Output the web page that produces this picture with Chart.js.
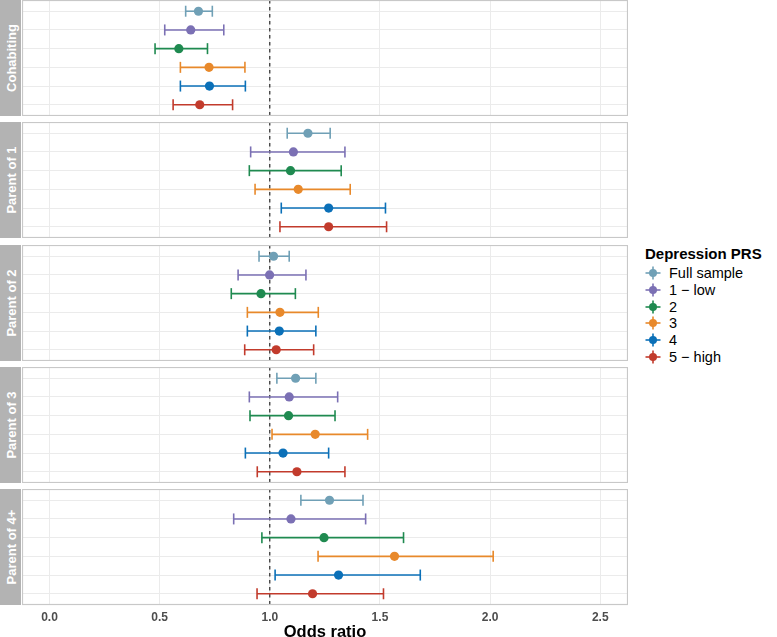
<!DOCTYPE html>
<html>
<head>
<meta charset="utf-8">
<script src="https://cdn.jsdelivr.net/npm/chart.js@4/dist/chart.umd.min.js"></script>
<style>
  html, body { margin:0; padding:0; background:#fff; }
  body { width:777px; height:637px; position:relative; overflow:hidden; font-family:"Liberation Sans", Arial, sans-serif; }
  .panel { position:absolute; left:22px; width:606px; }
  .strip { position:absolute; left:0; width:21px; height:116px; background:#b3b3b3; }
  .strip span { position:absolute; left:50%; top:50%; transform:translate(-50%,-50%) rotate(-90deg); color:#fff; font-weight:bold; font-size:13px; white-space:nowrap; }
  #xtitle { position:absolute; left:22px; width:606px; top:622px; text-align:center; font-weight:bold; font-size:16.5px; color:#000; }
  #legend { position:absolute; left:645px; top:245px; }
  #legend .title { font-weight:bold; font-size:15px; color:#000; margin-bottom:3px; }
  #legend .item { height:16.7px; display:flex; align-items:center; font-size:14.5px; color:#000; }
  #legend svg { margin-right:8px; }
</style>
</head>
<body>
<script>
// ---- data ----
const facets = ["Cohabiting", "Parent of 1", "Parent of 2", "Parent of 3", "Parent of 4+"];
const groups = ["Full sample", "1 \u2212 low", "2", "3", "4", "5 \u2212 high"];
const groupColors = ["#70a0b6", "#7b70b4", "#1f8a50", "#e8892b", "#0b70b8", "#c23b2c"];
const xTicks = [0, 0.5, 1, 1.5, 2, 2.5];

// odds ratios per facet (rows follow groups)
const orCohabiting = [0.676, 0.641, 0.587, 0.724, 0.726, 0.682];
const loCohabiting = [0.618, 0.523, 0.479, 0.594, 0.594, 0.561];
const hiCohabiting = [0.739, 0.791, 0.717, 0.887, 0.889, 0.831];

const orParent1 = [1.173, 1.107, 1.094, 1.129, 1.267, 1.267];
const loParent1 = [1.079, 0.913, 0.907, 0.933, 1.052, 1.046];
const hiParent1 = [1.274, 1.341, 1.324, 1.365, 1.525, 1.530];

const orParent2 = [1.017, 0.999, 0.960, 1.046, 1.043, 1.029];
const loParent2 = [0.951, 0.856, 0.825, 0.898, 0.898, 0.886];
const hiParent2 = [1.088, 1.164, 1.116, 1.220, 1.209, 1.199];

const orParent3 = [1.117, 1.088, 1.085, 1.206, 1.060, 1.123];
const loParent3 = [1.032, 0.907, 0.910, 1.010, 0.889, 0.943];
const hiParent3 = [1.209, 1.308, 1.296, 1.444, 1.267, 1.341];

const orParent4 = [1.271, 1.096, 1.246, 1.566, 1.312, 1.194];
const loParent4 = [1.141, 0.836, 0.964, 1.219, 1.024, 0.942];
const hiParent4 = [1.423, 1.435, 1.607, 2.014, 1.683, 1.516];

const facetOR = [orCohabiting, orParent1, orParent2, orParent3, orParent4];
const facetLo = [loCohabiting, loParent1, loParent2, loParent3, loParent4];
const facetHi = [hiCohabiting, hiParent1, hiParent2, hiParent3, hiParent4];
const refLine = 1;

// ---- layout ----
const panelTops = [0, 122, 244.5, 366.5, 489];
const panelH = 116;
const axisH = 22;

const borderPlugin = {
  id: 'panelBorder',
  afterDraw(chart) {
    const a = chart.chartArea, ctx = chart.ctx;
    ctx.save();
    ctx.strokeStyle = '#c8c8c8';
    ctx.lineWidth = 1.2;
    ctx.strokeRect(a.left + 0.5, a.top + 0.5, a.right - a.left - 1, a.bottom - a.top - 1);
    ctx.restore();
  }
};

facets.forEach((name, fi) => {
  const isLast = fi === facets.length - 1;
  const strip = document.createElement('div');
  strip.className = 'strip';
  strip.style.top = panelTops[fi] + 'px';
  strip.innerHTML = '<span>' + name + '</span>';
  document.body.appendChild(strip);

  const wrap = document.createElement('div');
  wrap.className = 'panel';
  wrap.style.top = panelTops[fi] + 'px';
  const h = panelH + (isLast ? axisH : 0);
  wrap.style.height = h + 'px';
  const cv = document.createElement('canvas');
  wrap.appendChild(cv);
  document.body.appendChild(wrap);

  const datasets = [];
  // dashed reference line
  datasets.push({
    type: 'line',
    data: [{x: refLine, y: -0.6}, {x: refLine, y: 5.6}],
    borderColor: '#000', borderWidth: 1, borderDash: [3.5, 3.5],
    pointRadius: 0, showLine: true, order: 3
  });
  groups.forEach((g, gi) => {
    // whiskers with caps
    datasets.push({
      type: 'line',
      data: [{x: facetLo[fi][gi], y: gi}, {x: facetHi[fi][gi], y: gi}],
      borderColor: groupColors[gi], borderWidth: 1.6,
      pointStyle: 'line', rotation: 90, pointRadius: 5.5, pointBorderWidth: 1.6,
      pointBorderColor: groupColors[gi], showLine: true, order: 2
    });
    // point estimate
    datasets.push({
      type: 'scatter',
      data: [{x: facetOR[fi][gi], y: gi}],
      backgroundColor: groupColors[gi], borderColor: groupColors[gi],
      pointRadius: 4.6, pointBorderWidth: 0, order: 1
    });
  });

  new Chart(cv, {
    data: { datasets },
    plugins: [borderPlugin],
    options: {
      responsive: true, maintainAspectRatio: false, animation: false,
      layout: { padding: 0, autoPadding: false },
      plugins: { legend: { display: false }, tooltip: { enabled: false } },
      scales: {
        x: {
          type: 'linear', min: -0.125, max: 2.626,
          afterBuildTicks: s => { s.ticks = xTicks.map(v => ({value: v})); },
          afterFit: s => { s.height = isLast ? axisH : 0; },
          grid: { color: '#ebebeb', lineWidth: 1, drawTicks: false },
          border: { display: false },
          ticks: {
            display: isLast, padding: 5,
            color: '#4d4d4d', font: { family: 'Liberation Sans', size: 12, weight: 'bold' },
            callback: v => Number(v).toFixed(1)
          }
        },
        y: {
          type: 'linear', min: -0.6, max: 5.6, reverse: true,
          afterBuildTicks: s => { s.ticks = groups.map((g, i) => ({value: i})); },
          afterFit: s => { s.width = 0; },
          grid: { color: '#ebebeb', lineWidth: 1, drawTicks: false },
          border: { display: false },
          ticks: { display: false }
        }
      }
    }
  });
});

// x-axis title
const xt = document.createElement('div');
xt.id = 'xtitle';
xt.textContent = 'Odds ratio';
document.body.appendChild(xt);

// legend
const lg = document.createElement('div');
lg.id = 'legend';
let html = '<div class="title">Depression PRS</div>';
groups.forEach((g, i) => {
  const c = groupColors[i];
  html += '<div class="item"><svg width="16" height="14" viewBox="0 0 16 14">' +
    '<line x1="0.5" y1="7" x2="15.5" y2="7" stroke="' + c + '" stroke-width="1.6"/>' +
    '<line x1="8" y1="0.5" x2="8" y2="13.5" stroke="' + c + '" stroke-width="1.6"/>' +
    '<circle cx="8" cy="7" r="4" fill="' + c + '"/></svg>' + g + '</div>';
});
lg.innerHTML = html;
document.body.appendChild(lg);
</script>
</body>
</html>
